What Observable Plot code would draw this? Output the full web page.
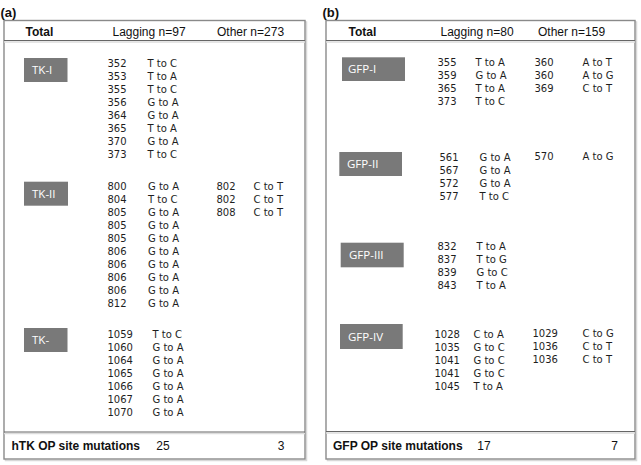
<!DOCTYPE html>
<html>
<head>
<meta charset="utf-8">
<script src="https://cdn.jsdelivr.net/npm/d3@7"></script>
<script src="https://cdn.jsdelivr.net/npm/@observablehq/plot@0.6"></script>
<style>
  html, body { margin: 0; padding: 0; background: #fff; }
  #chart svg { display: block; }
</style>
</head>
<body>
<div id="chart"></div>
<script>
// ---------- data ----------
const panelLabels = ["(a)", "(b)"];
const totalHeaders = ["Total", "Total"];
const laggingHeaders = ["Lagging n=97", "Lagging n=80"];
const otherHeaders = ["Other n=273", "Other n=159"];
const footerLabels = ["hTK OP site mutations", "GFP OP site mutations"];
const footerLagging = [25, 17];
const footerOther = [3, 7];

const groupsA = ["TK-I", "TK-II", "TK-"];
const groupsB = ["GFP-I", "GFP-II", "GFP-III", "GFP-IV"];

const tk1Lagging = [[352, "T to C"], [353, "T to A"], [355, "T to C"], [356, "G to A"], [364, "G to A"], [365, "T to A"], [370, "G to A"], [373, "T to C"]];
const tk1Other = [];
const tk2Lagging = [[800, "G to A"], [804, "T to C"], [805, "G to A"], [805, "G to A"], [805, "G to A"], [806, "G to A"], [806, "G to A"], [806, "G to A"], [806, "G to A"], [812, "G to A"]];
const tk2Other = [[802, "C to T"], [802, "C to T"], [808, "C to T"]];
const tk3Lagging = [[1059, "T to C"], [1060, "G to A"], [1064, "G to A"], [1065, "G to A"], [1066, "G to A"], [1067, "G to A"], [1070, "G to A"]];
const tk3Other = [];

const gfp1Lagging = [[355, "T to A"], [359, "G to A"], [365, "T to A"], [373, "T to C"]];
const gfp1Other = [[360, "A to T"], [360, "A to G"], [369, "C to T"]];
const gfp2Lagging = [[561, "G to A"], [567, "G to A"], [572, "G to A"], [577, "T to C"]];
const gfp2Other = [[570, "A to G"]];
const gfp3Lagging = [[832, "T to A"], [837, "T to G"], [839, "G to C"], [843, "T to A"]];
const gfp3Other = [];
const gfp4Lagging = [[1028, "C to A"], [1035, "G to C"], [1041, "G to C"], [1041, "G to C"], [1045, "T to A"]];
const gfp4Other = [[1029, "C to G"], [1036, "C to T"], [1036, "C to T"]];

const lagA = [tk1Lagging, tk2Lagging, tk3Lagging];
const othA = [tk1Other, tk2Other, tk3Other];
const lagB = [gfp1Lagging, gfp2Lagging, gfp3Lagging, gfp4Lagging];
const othB = [gfp1Other, gfp2Other, gfp3Other, gfp4Other];

// ---------- layout (styles / positions, not data) ----------
const W = 641, H = 465, ROW = 13;
const panelLayout = [
  {
    frame: {x1: 4, x2: 305, y1: 20.5, y2: 459}, label: {x: 0, y: 12},
    headY: 31.5, headLineY: 40, footLineY: 431.5, footY: 446,
    totalX: 25, lagHeadX: 112, othHeadX: 216.5,
    footLabelX: 11, footLagX: 162.5, footOthX: 280.5,
    groups: [
      {y: 63.3, box: [24, 67.5, 58, 82], textX: 31.5, pos: 107, mut: 147, oPos: 216, oMut: 253},
      {y: 186.7, box: [24, 68, 181.7, 205.7], textX: 31.5, pos: 107, mut: 147.5, oPos: 216, oMut: 253},
      {y: 334, box: [24, 67.5, 328, 352], textX: 31.5, pos: 107, mut: 152, oPos: 216, oMut: 253}
    ],
    names: groupsA, lag: lagA, oth: othA
  },
  {
    frame: {x1: 326, x2: 635, y1: 20.5, y2: 459}, label: {x: 322, y: 12},
    headY: 31.5, headLineY: 40, footLineY: 431, footY: 445.5,
    totalX: 348, lagHeadX: 440, othHeadX: 537.5,
    footLabelX: 332.5, footLagX: 483.5, footOthX: 614,
    groups: [
      {y: 62.5, box: [342, 405, 57.3, 81], textX: 347.5, pos: 437, mut: 475, oPos: 534, oMut: 582},
      {y: 157, box: [339.3, 402, 152, 176], textX: 346.5, pos: 439, mut: 479, oPos: 534, oMut: 582},
      {y: 246.7, box: [340.7, 403.7, 242.7, 267.3], textX: 348.5, pos: 437, mut: 476, oPos: 534, oMut: 582},
      {y: 334, box: [340, 402.7, 324, 349], textX: 347.5, pos: 434, mut: 473, oPos: 532, oMut: 582}
    ],
    names: groupsB, lag: lagB, oth: othB
  }
];

// ---------- build tables ----------
const frames = [], shadows = [], lines = [], lineShades = [];
const boxes = [], boxLabels = [], cells = [], heads = [], boldHeads = [], labels = [], footNums = [];

panelLayout.forEach((p, pi) => {
  frames.push(p.frame);
  shadows.push({x1: p.frame.x1 + 1.5, x2: p.frame.x2 + 1.5, y1: p.frame.y1 + 1.5, y2: p.frame.y2 + 1.5});
  lines.push({x1: p.frame.x1, x2: p.frame.x2, y: p.headLineY});
  lines.push({x1: p.frame.x1, x2: p.frame.x2, y: p.footLineY});
  lineShades.push({x1: p.frame.x1, x2: p.frame.x2, y: p.headLineY + 1.5});
  lineShades.push({x1: p.frame.x1, x2: p.frame.x2, y: p.footLineY + 1.5});
  labels.push({x: p.label.x, y: p.label.y, text: panelLabels[pi]});
  boldHeads.push({x: p.totalX, y: p.headY, text: totalHeaders[pi]});
  heads.push({x: p.lagHeadX, y: p.headY, text: laggingHeaders[pi]});
  heads.push({x: p.othHeadX, y: p.headY, text: otherHeaders[pi]});
  boldHeads.push({x: p.footLabelX, y: p.footY, text: footerLabels[pi]});
  footNums.push({x: p.footLagX, y: p.footY, text: String(footerLagging[pi])});
  footNums.push({x: p.footOthX, y: p.footY, text: String(footerOther[pi])});
  p.groups.forEach((g, gi) => {
    boxes.push({x1: g.box[0], x2: g.box[1], y1: g.box[2], y2: g.box[3]});
    boxLabels.push({x: g.textX, y: (g.box[2] + g.box[3]) / 2, text: p.names[gi]});
    p.lag[gi].forEach(([pos, mut], i) => {
      cells.push({x: g.pos, y: g.y + i * ROW, text: String(pos)});
      cells.push({x: g.mut, y: g.y + i * ROW, text: mut});
    });
    p.oth[gi].forEach(([pos, mut], i) => {
      cells.push({x: g.oPos, y: g.y + i * ROW - 0.5, text: String(pos)});
      cells.push({x: g.oMut, y: g.y + i * ROW - 0.5, text: mut});
    });
  });
});

const chart = Plot.plot({
  width: W, height: H,
  margin: 0,
  x: {domain: [0, W], range: [0, W], axis: null},
  y: {domain: [0, H], range: [0, H], axis: null},
  style: {background: "#fff"},
  marks: [
    Plot.rect(shadows, {x1: "x1", x2: "x2", y1: "y1", y2: "y2", fill: "none", stroke: "#d8d8d8", strokeWidth: 1.5}),
    Plot.rect(frames, {x1: "x1", x2: "x2", y1: "y1", y2: "y2", fill: "#fff", stroke: "#8a8a8a", strokeWidth: 1.4}),
    Plot.ruleY(lineShades, {x1: "x1", x2: "x2", y: "y", stroke: "#dcdcdc", strokeWidth: 1.5}),
    Plot.ruleY(lines, {x1: "x1", x2: "x2", y: "y", stroke: "#666", strokeWidth: 1.2}),
    Plot.rect(boxes, {x1: "x1", x2: "x2", y1: "y1", y2: "y2", fill: "#797979"}),
    Plot.text(boxLabels, {x: "x", y: "y", text: "text", textAnchor: "start", fill: "#fff", fontFamily: "Open Sans", fontSize: 11.5}),
    Plot.text(cells, {x: "x", y: "y", text: "text", textAnchor: "start", fill: "#1e1e1e", fontFamily: "DejaVu Sans", fontSize: 10}),
    Plot.text(heads, {x: "x", y: "y", text: "text", textAnchor: "start", fill: "#111", fontFamily: "Liberation Sans", fontSize: 12}),
    Plot.text(boldHeads, {x: "x", y: "y", text: "text", textAnchor: "start", fill: "#111", fontFamily: "Liberation Sans", fontSize: 12, fontWeight: "bold"}),
    Plot.text(footNums, {x: "x", y: "y", text: "text", textAnchor: "middle", fill: "#111", fontFamily: "Liberation Sans", fontSize: 12}),
    Plot.text(labels, {x: "x", y: "y", text: "text", textAnchor: "start", fill: "#111", fontFamily: "Liberation Sans", fontSize: 13, fontWeight: "bold"})
  ]
});
document.getElementById("chart").appendChild(chart);
</script>
</body>
</html>
